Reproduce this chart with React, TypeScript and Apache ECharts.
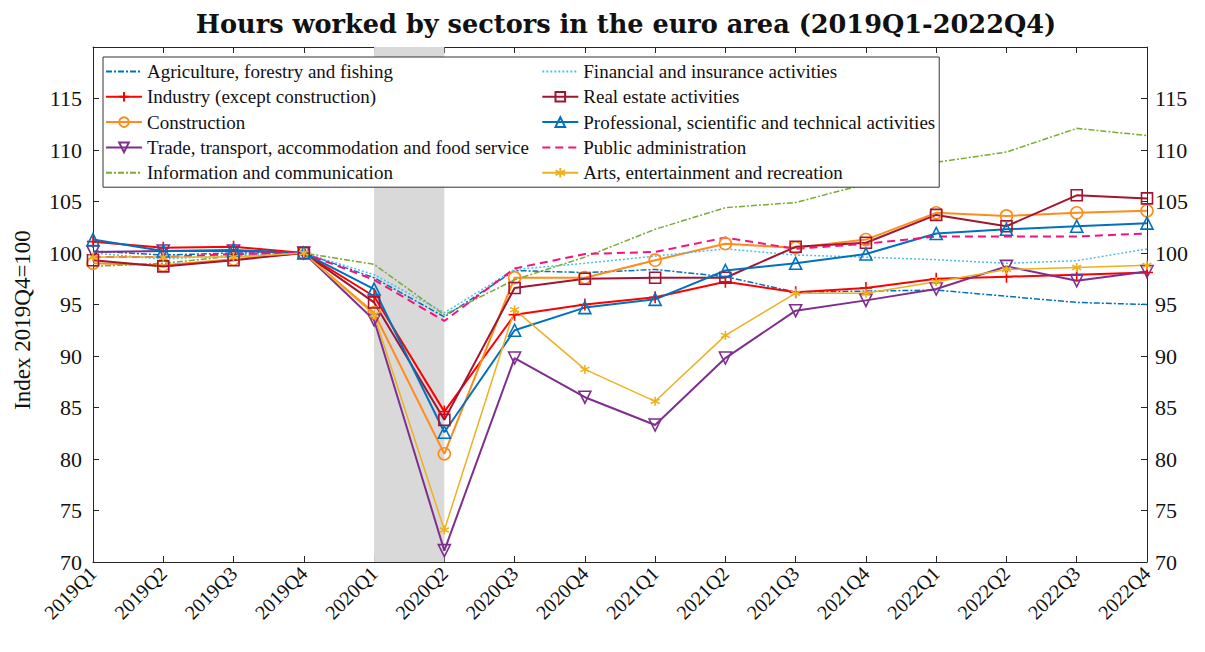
import React, { useEffect, useRef } from "react";
import * as echarts from "echarts";

const quarters = [
  "2019Q1", "2019Q2", "2019Q3", "2019Q4",
  "2020Q1", "2020Q2", "2020Q3", "2020Q4",
  "2021Q1", "2021Q2", "2021Q3", "2021Q4",
  "2022Q1", "2022Q2", "2022Q3", "2022Q4",
];

const agriculture = [100.2, 99.8, 100.0, 100, 97.6, 93.8, 98.3, 98.1, 98.4, 97.7, 96.2, 96.3, 96.4, 95.8, 95.2, 95.0];
const industry = [101.1, 100.5, 100.6, 100, 95.8, 84.6, 94.0, 95.0, 95.7, 97.2, 96.2, 96.6, 97.5, 97.7, 97.9, 98.1];
const construction = [99.0, 98.8, 99.4, 100, 94.2, 80.5, 97.6, 97.6, 99.3, 100.9, 100.5, 101.3, 103.9, 103.6, 103.9, 104.1];
const trade = [100.1, 100.2, 100.2, 100, 93.5, 71.1, 89.8, 86.0, 83.3, 89.8, 94.4, 95.4, 96.5, 98.7, 97.3, 98.2];
const information = [98.7, 99.0, 99.7, 100, 98.9, 94.0, 97.4, 99.6, 102.3, 104.4, 104.9, 106.7, 108.8, 109.8, 112.1, 111.4];
const financial = [100.0, 99.4, 99.8, 100, 97.9, 94.2, 98.4, 99.0, 99.7, 100.4, 99.8, 99.6, 99.35, 99.0, 99.25, 100.4];
const realEstate = [99.3, 98.7, 99.3, 100, 95.2, 83.8, 96.6, 97.5, 97.6, 97.6, 100.6, 101.0, 103.7, 102.6, 105.6, 105.3];
const professional = [101.3, 100.2, 100.3, 100, 96.5, 82.6, 92.5, 94.7, 95.5, 98.3, 99.0, 99.9, 101.9, 102.3, 102.6, 102.9];
const publicAdmin = [99.6, 99.6, 99.9, 100, 97.4, 93.4, 98.5, 99.9, 100.1, 101.5, 100.4, 100.9, 101.6, 101.6, 101.6, 101.9];
const arts = [99.6, 99.6, 99.6, 100, 94.0, 73.1, 94.5, 88.7, 85.6, 92.0, 96.1, 96.1, 97.2, 98.4, 98.6, 98.8];

const recessionStart = "2020Q1";
const recessionEnd = "2020Q2";

const FONT = "'Liberation Serif', 'Times New Roman', serif";
const TITLE_FONT = "'DejaVu Serif', serif";
const AXIS_COLOR = "#262626";

const SYM_NONE = "path://M0,0 L1,0 L1,1 L0,1 Z";
const SYM_PLUS = "path://M5,0 L5,10 M0,5 L10,5";
const SYM_STAR = "path://M5,0 L5,10 M0.7,2.5 L9.3,7.5 M0.7,7.5 L9.3,2.5";
const SYM_DOWN = "path://M0,0 L10,0 L5,9 Z";
const SYM_UP = "path://M5,0 L10,9 L0,9 Z";

type Def = {
  name: string;
  data: number[];
  color: string;
  dash: any;
  width: number;
  symbol: string | null;
  size: number;
};

const defs: Def[] = [
  { name: "Agriculture, forestry and fishing", data: agriculture, color: "#0072BD", dash: [6, 2, 2, 2], width: 1.5, symbol: null, size: 0 },
  { name: "Industry (except construction)", data: industry, color: "#FF0000", dash: "solid", width: 2, symbol: SYM_PLUS, size: 12 },
  { name: "Construction", data: construction, color: "#FF8C1A", dash: "solid", width: 2, symbol: "circle", size: 12 },
  { name: "Trade, transport, accommodation and food service", data: trade, color: "#7E2F8E", dash: "solid", width: 2, symbol: SYM_DOWN, size: 12 },
  { name: "Information and communication", data: information, color: "#77AC30", dash: [6, 2, 2, 2], width: 1.5, symbol: null, size: 0 },
  { name: "Financial and insurance activities", data: financial, color: "#4DBEEE", dash: [2, 2], width: 1.5, symbol: null, size: 0 },
  { name: "Real estate activities", data: realEstate, color: "#A2142F", dash: "solid", width: 2, symbol: "rect", size: 11 },
  { name: "Professional, scientific and technical activities", data: professional, color: "#0072BD", dash: "solid", width: 2, symbol: SYM_UP, size: 12 },
  { name: "Public administration", data: publicAdmin, color: "#F5127E", dash: [8, 5], width: 2, symbol: null, size: 0 },
  { name: "Arts, entertainment and recreation", data: arts, color: "#EDB120", dash: "solid", width: 1.5, symbol: SYM_STAR, size: 9 },
];

export default function App() {
  const ref = useRef<HTMLDivElement>(null);

  useEffect(() => {
    document.body.style.margin = "0";
    const chart = echarts.init(ref.current!, undefined, { renderer: "svg" });

    const lineSeries = defs.map((d) => ({
      name: d.name,
      type: "line",
      data: d.data,
      z: 3,
      symbol: d.symbol || SYM_NONE,
      showSymbol: !!d.symbol,
      symbolSize: d.size,
      lineStyle: { color: d.color, width: d.width, type: d.dash },
      itemStyle: d.symbol
        ? { color: "transparent", borderColor: d.color, borderWidth: 1.6 }
        : { color: "transparent", borderColor: "transparent", borderWidth: 0 },
      emphasis: { disabled: true },
    }));

    const band = {
      name: "recession",
      type: "line",
      data: quarters.map(() => null),
      z: 1,
      silent: true,
      showSymbol: false,
      markArea: {
        silent: true,
        itemStyle: { color: "#d9d9d9" },
        data: [[{ xAxis: recessionStart }, { xAxis: recessionEnd }]],
      },
    };

    const xCommon = {
      type: "category",
      data: quarters,
      boundaryGap: false,
      axisLine: { show: true, lineStyle: { color: AXIS_COLOR, width: 1 } },
      axisTick: { show: true, inside: true, length: 6, lineStyle: { color: AXIS_COLOR } },
      splitLine: { show: false },
    };
    const yCommon = {
      type: "value",
      min: 70,
      max: 120,
      interval: 5,
      axisLine: { show: true, lineStyle: { color: AXIS_COLOR, width: 1 } },
      axisTick: { show: true, inside: true, length: 6, lineStyle: { color: AXIS_COLOR } },
      splitLine: { show: false },
    };
    const yLabel = {
      fontFamily: FONT,
      fontSize: 22,
      color: "#111",
      formatter: (v: number) => (v >= 120 ? "" : String(v)),
    };

    const legendData = defs.map((d, i) =>
      i < 5 ? { name: d.name, textStyle: { width: 388 } } : { name: d.name }
    );

    chart.setOption({
      animation: false,
      backgroundColor: "#fff",
      title: {
        text: "Hours worked by sectors in the euro area (2019Q1-2022Q4)",
        left: 621,
        top: 6,
        textAlign: "center",
        textStyle: { fontFamily: TITLE_FONT, fontSize: 25.6, fontWeight: "bold", color: "#111" },
      },
      grid: { left: 93, right: 58, top: 47, bottom: 90, containLabel: false },
      legend: {
        data: legendData,
        orient: "vertical",
        left: 103,
        top: 57,
        height: 122,
        padding: [5, 4, 5, 2],
        itemGap: 6.3,
        itemWidth: 36,
        itemHeight: 12,
        selectedMode: false,
        backgroundColor: "#fff",
        borderColor: "#333",
        borderWidth: 1,
        z: 10,
        textStyle: { fontFamily: FONT, fontSize: 19, color: "#111", lineHeight: 18 },
      },
      xAxis: [
        {
          ...xCommon,
          position: "bottom",
          axisLabel: { rotate: 45, fontFamily: FONT, fontSize: 20, color: "#111", margin: 8, interval: 0 },
        },
        {
          ...xCommon,
          position: "top",
          axisLabel: { show: false },
        },
      ],
      yAxis: [
        {
          ...yCommon,
          position: "left",
          axisLabel: { ...yLabel, margin: 11 },
        },
        {
          ...yCommon,
          position: "right",
          axisLabel: { ...yLabel, margin: 8 },
        },
      ],
      graphic: [
        {
          type: "text",
          x: 22,
          y: 320,
          rotation: Math.PI / 2,
          style: {
            text: "Index 2019Q4=100",
            fontFamily: FONT,
            fontSize: 23,
            fill: "#111",
            textAlign: "center",
            textVerticalAlign: "middle",
          },
        },
      ],
      series: [band, ...lineSeries],
    });

    return () => chart.dispose();
  }, []);

  return <div ref={ref} style={{ width: 1205, height: 652 }} />;
}
